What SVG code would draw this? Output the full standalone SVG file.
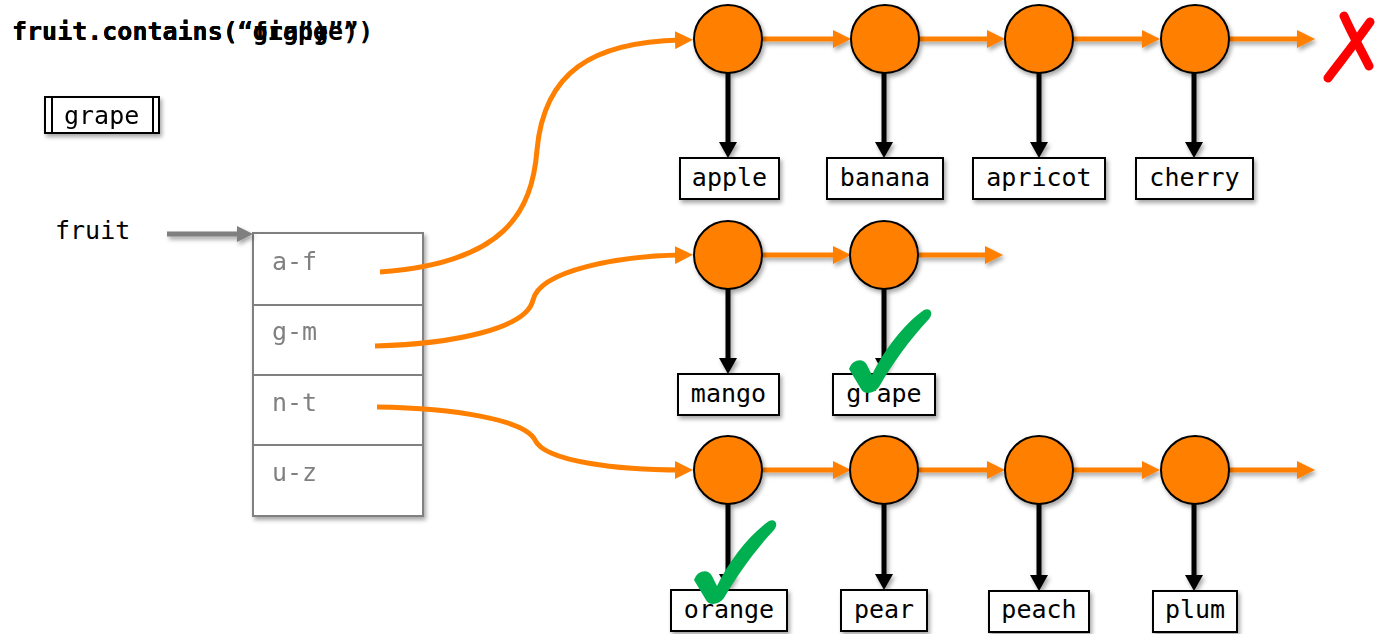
<svg xmlns="http://www.w3.org/2000/svg" width="1375" height="634" viewBox="0 0 1375 634">
<defs>
<style>
.mono{font-family:"DejaVu Sans Mono","Liberation Mono",monospace;font-size:25px;fill:#000}
.title{font-weight:bold}
.gray{fill:#808080}
.lbl{fill:#fff;stroke:#000;stroke-width:2}
.node{fill:#ff8000;stroke:#000;stroke-width:2}
.olink{fill:none;stroke:#ff8000;stroke-width:5}
.blink{fill:none;stroke:#000;stroke-width:5}
.glink{fill:none;stroke:#7f7f7f;stroke-width:5}
.cell{fill:#fff;stroke:#808080;stroke-width:2}
.check{fill:#00b050}
.cross{fill:none;stroke:#ff0000;stroke-width:9;stroke-linecap:round}
</style>
<filter id="sh" x="-20%" y="-20%" width="150%" height="160%">
<feDropShadow dx="2" dy="3" stdDeviation="2" flood-color="#000" flood-opacity="0.35"/>
</filter>
<filter id="shu" filterUnits="userSpaceOnUse" x="0" y="0" width="1375" height="634">
<feDropShadow dx="2" dy="3" stdDeviation="2" flood-color="#000" flood-opacity="0.35"/>
</filter>
<marker id="oa" markerUnits="userSpaceOnUse" markerWidth="20" markerHeight="18" refX="6" refY="9" orient="auto">
<path d="M0,0 L18,9 L0,18 Z" fill="#ff8000"/>
</marker>
<marker id="ba" markerUnits="userSpaceOnUse" markerWidth="20" markerHeight="20" refX="4" refY="9" orient="auto">
<path d="M0,0 L16,9 L0,18 Z" fill="#000"/>
</marker>
<marker id="ga" markerUnits="userSpaceOnUse" markerWidth="20" markerHeight="18" refX="4" refY="8" orient="auto">
<path d="M0,0 L16,8 L0,16 Z" fill="#7f7f7f"/>
</marker>
<path id="chk" d="M-20,-21 C-16,-32 -5,-32 -2,-25 L3,-15 C15,-40 35,-66 55,-80 C61,-83 65,-77 60,-71 C42,-52 23,-26 10,-3 C5,4 -5,5 -8,-1 Z"/>
</defs>

<!-- title (three overlapping queries) -->
<g id="title">
<text class="mono title" x="12" y="40">fruit.contains(“grape”)</text>
<text class="mono title" x="12" y="40">fruit.contains(“orange”)</text>
<text class="mono title" x="12" y="40">fruit.contains(“fig”)</text>
</g>

<!-- search key box -->
<g id="key" filter="url(#sh)">
<rect x="45" y="97" width="114" height="36" class="lbl"/>
<line x1="52" y1="97" x2="52" y2="133" stroke="#000" stroke-width="2"/>
<line x1="153" y1="97" x2="153" y2="133" stroke="#000" stroke-width="2"/>
<text class="mono" x="64" y="124">grape</text>
</g>

<!-- fruit label -->
<g id="fruit-label">
<text class="mono" x="55" y="239">fruit</text>
</g>

<!-- bucket table -->
<g id="table" filter="url(#sh)">
<rect x="253" y="233" width="170" height="72" class="cell"/>
<rect x="253" y="305" width="170" height="70" class="cell"/>
<rect x="253" y="375" width="170" height="70" class="cell"/>
<rect x="253" y="445" width="170" height="71" class="cell"/>
<text class="mono gray" x="272" y="270">a-f</text>
<text class="mono gray" x="272" y="340">g-m</text>
<text class="mono gray" x="272" y="411">n-t</text>
<text class="mono gray" x="272" y="481">u-z</text>
</g>

<!-- connectors -->
<g id="connectors">
<path class="glink" d="M167,234 L241,234" marker-end="url(#ga)" filter="url(#shu)"/>
<path class="olink" d="M380,272 C505,263 532,212 537,150 C544,72 592,42 681,40" marker-end="url(#oa)"/>
<path class="olink" d="M375,346 C455,344 527,328 533,300 C540,270 620,256 681,255" marker-end="url(#oa)"/>
<path class="olink" d="M377,407 C455,408 525,420 535,440 C545,462 620,470 681,470" marker-end="url(#oa)"/>

<g filter="url(#shu)">
<!-- row 1 horizontal -->
<path class="olink" d="M763,39 L839,39" marker-end="url(#oa)"/>
<path class="olink" d="M919,39 L993,39" marker-end="url(#oa)"/>
<path class="olink" d="M1073,39 L1148,39" marker-end="url(#oa)"/>
<path class="olink" d="M1229,39 L1303,39" marker-end="url(#oa)"/>
<!-- row 2 horizontal -->
<path class="olink" d="M763,255 L839,255" marker-end="url(#oa)"/>
<path class="olink" d="M919,255 L991,255" marker-end="url(#oa)"/>
<!-- row 3 horizontal -->
<path class="olink" d="M763,470 L839,470" marker-end="url(#oa)"/>
<path class="olink" d="M919,470 L993,470" marker-end="url(#oa)"/>
<path class="olink" d="M1073,470 L1148,470" marker-end="url(#oa)"/>
<path class="olink" d="M1229,470 L1303,470" marker-end="url(#oa)"/>
</g>

<g filter="url(#shu)">
<!-- row 1 vertical -->
<path class="blink" d="M728,73 L728,146" marker-end="url(#ba)"/>
<path class="blink" d="M884,73 L884,146" marker-end="url(#ba)"/>
<path class="blink" d="M1039,73 L1039,146" marker-end="url(#ba)"/>
<path class="blink" d="M1194,73 L1194,146" marker-end="url(#ba)"/>
<!-- row 2 vertical -->
<path class="blink" d="M728,289 L728,362" marker-end="url(#ba)"/>
<path class="blink" d="M884,289 L884,362" marker-end="url(#ba)"/>
<!-- row 3 vertical -->
<path class="blink" d="M728,504 L728,578" marker-end="url(#ba)"/>
<path class="blink" d="M884,504 L884,578" marker-end="url(#ba)"/>
<path class="blink" d="M1039,504 L1039,579" marker-end="url(#ba)"/>
<path class="blink" d="M1194,504 L1194,579" marker-end="url(#ba)"/>
</g>
</g>

<!-- row 1 nodes -->
<g id="n-apple"><circle cx="728" cy="39" r="34" class="node" filter="url(#sh)"/><rect x="680" y="158" width="99" height="41" class="lbl" filter="url(#sh)"/><text class="mono" x="729.5" y="186" text-anchor="middle">apple</text></g>
<g id="n-banana"><circle cx="885" cy="39" r="34" class="node" filter="url(#sh)"/><rect x="827" y="158" width="116" height="41" class="lbl" filter="url(#sh)"/><text class="mono" x="885" y="186" text-anchor="middle">banana</text></g>
<g id="n-apricot"><circle cx="1039" cy="39" r="34" class="node" filter="url(#sh)"/><rect x="973" y="158" width="132" height="41" class="lbl" filter="url(#sh)"/><text class="mono" x="1039" y="186" text-anchor="middle">apricot</text></g>
<g id="n-cherry"><circle cx="1195" cy="39" r="34" class="node" filter="url(#sh)"/><rect x="1136" y="158" width="117" height="41" class="lbl" filter="url(#sh)"/><text class="mono" x="1194.5" y="186" text-anchor="middle">cherry</text></g>

<!-- row 2 nodes -->
<g id="n-mango"><circle cx="728" cy="255" r="34" class="node" filter="url(#sh)"/><rect x="678" y="374" width="101" height="41" class="lbl" filter="url(#sh)"/><text class="mono" x="728.5" y="402" text-anchor="middle">mango</text></g>
<g id="n-grape"><circle cx="884" cy="255" r="34" class="node" filter="url(#sh)"/><rect x="833" y="374" width="102" height="41" class="lbl" filter="url(#sh)"/><text class="mono" x="884" y="402" text-anchor="middle">grape</text></g>

<!-- row 3 nodes -->
<g id="n-orange"><circle cx="728" cy="470" r="34" class="node" filter="url(#sh)"/><rect x="671" y="590" width="116" height="41" class="lbl" filter="url(#sh)"/><text class="mono" x="729" y="618" text-anchor="middle">orange</text></g>
<g id="n-pear"><circle cx="884" cy="470" r="34" class="node" filter="url(#sh)"/><rect x="841" y="590" width="86" height="41" class="lbl" filter="url(#sh)"/><text class="mono" x="884" y="618" text-anchor="middle">pear</text></g>
<g id="n-peach"><circle cx="1039" cy="470" r="34" class="node" filter="url(#sh)"/><rect x="989" y="591" width="100" height="41" class="lbl" filter="url(#sh)"/><text class="mono" x="1039" y="618" text-anchor="middle">peach</text></g>
<g id="n-plum"><circle cx="1195" cy="470" r="34" class="node" filter="url(#sh)"/><rect x="1153" y="591" width="84" height="41" class="lbl" filter="url(#sh)"/><text class="mono" x="1195" y="618" text-anchor="middle">plum</text></g>

<!-- marks -->
<g id="mark-grape"><use href="#chk" class="check" transform="translate(869,390)"/></g>
<g id="mark-orange"><use href="#chk" class="check" transform="translate(714,601)"/></g>
<g id="mark-fig">
<path class="cross" d="M1344,16 C1352,34 1362,52 1369,66"/>
<path class="cross" d="M1370,22 C1356,42 1340,62 1328,78"/>
</g>
</svg>
